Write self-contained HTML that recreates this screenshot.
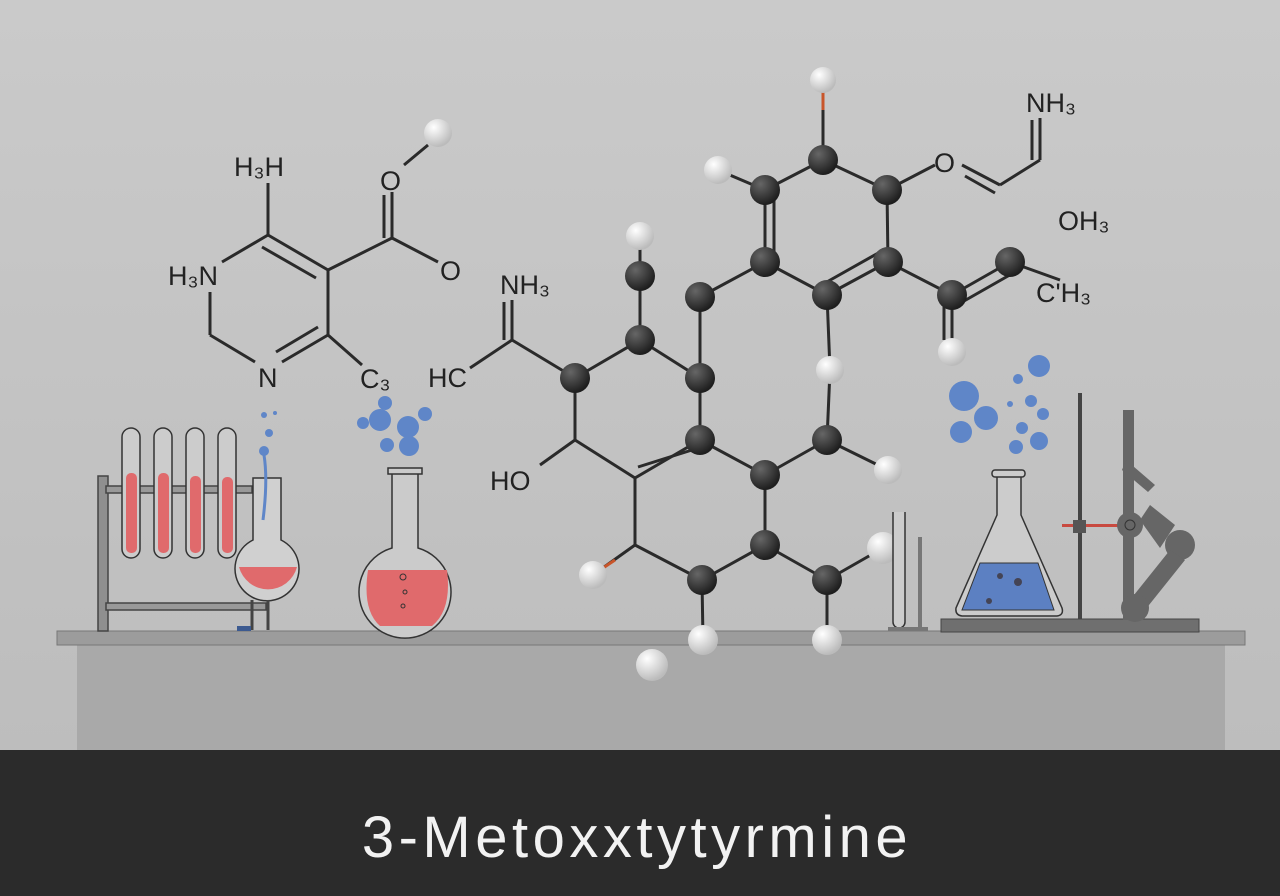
<!DOCTYPE html>
<html><head><style>
html,body{margin:0;padding:0;width:1280px;height:896px;overflow:hidden;background:#c6c6c6}
svg{display:block}
text{font-family:"Liberation Sans",sans-serif;fill:#222}
</style></head><body>
<svg width="1280" height="896" viewBox="0 0 1280 896">
<defs>
<linearGradient id="bg" x1="0" y1="0" x2="0" y2="1"><stop offset="0" stop-color="#cacaca"/><stop offset="1" stop-color="#bdbdbd"/></linearGradient>
<radialGradient id="dk" cx="0.35" cy="0.3" r="0.7"><stop offset="0" stop-color="#666"/><stop offset="1" stop-color="#1e1e1e"/></radialGradient>
<radialGradient id="wt" cx="0.35" cy="0.3" r="0.7"><stop offset="0" stop-color="#fff"/><stop offset="1" stop-color="#bbb"/></radialGradient>
</defs>
<rect width="1280" height="750" fill="url(#bg)"/>
<rect x="77" y="645" width="1148" height="105" fill="#a9a9a9"/>
<rect x="57" y="631" width="1188" height="14" fill="#9c9c9c" stroke="#777" stroke-width="1"/>
<rect x="0" y="750" width="1280" height="146" fill="#2b2b2b"/>
<text x="637" y="857" text-anchor="middle" font-size="58" letter-spacing="4.5" style="fill:#f2f2f2">3-Metoxxtytyrmine</text>

<g stroke="#2a2a2a" stroke-width="3" fill="none">
<line x1="268" y1="183" x2="268" y2="235"/>
<line x1="268" y1="235" x2="328" y2="270"/><line x1="262" y1="247" x2="316" y2="278"/>
<line x1="268" y1="235" x2="222" y2="262"/>
<line x1="328" y1="270" x2="328" y2="335"/>
<line x1="328" y1="335" x2="282" y2="362"/><line x1="318" y1="327" x2="276" y2="352"/>
<line x1="255" y1="362" x2="210" y2="335"/>
<line x1="210" y1="335" x2="210" y2="292"/>
<line x1="328" y1="270" x2="392" y2="238"/>
<line x1="392" y1="238" x2="392" y2="192"/><line x1="384" y1="238" x2="384" y2="195"/>
<line x1="392" y1="238" x2="438" y2="262"/>
<line x1="404" y1="165" x2="428" y2="145"/>
<line x1="328" y1="335" x2="362" y2="365"/>
</g>
<text x="234" y="176" font-size="27">H₃H</text>
<text x="168" y="285" font-size="27">H₃N</text>
<text x="258" y="387" font-size="27">N</text>
<text x="380" y="190" font-size="27">O</text>
<text x="440" y="280" font-size="27">O</text>
<text x="360" y="388" font-size="27">C₃</text>
<circle cx="438" cy="133" r="14" fill="url(#wt)"/>

<g stroke="#2a2a2a" stroke-width="3" fill="none">
<line x1="823" y1="160" x2="887" y2="190"/><line x1="823" y1="160" x2="765" y2="190"/>
<line x1="765" y1="190" x2="718" y2="170"/>
<line x1="765" y1="190" x2="765" y2="262"/><line x1="774" y1="198" x2="774" y2="255"/>
<line x1="887" y1="190" x2="888" y2="262"/>
<line x1="887" y1="190" x2="935" y2="165"/>
<line x1="962" y1="165" x2="1000" y2="185"/><line x1="965" y1="176" x2="995" y2="193"/>
<line x1="1000" y1="185" x2="1040" y2="160"/>
<line x1="1040" y1="160" x2="1040" y2="118"/><line x1="1032" y1="160" x2="1032" y2="120"/>
<line x1="765" y1="262" x2="827" y2="295"/>
<line x1="888" y1="262" x2="827" y2="295"/><line x1="880" y1="252" x2="825" y2="283"/>
<line x1="888" y1="262" x2="952" y2="295"/>
<line x1="952" y1="295" x2="1010" y2="262"/><line x1="957" y1="305" x2="1015" y2="272"/>
<line x1="1010" y1="262" x2="1060" y2="280"/>
<line x1="952" y1="295" x2="952" y2="352"/><line x1="944" y1="300" x2="944" y2="340"/>
<line x1="827" y1="295" x2="830" y2="370"/>
<line x1="765" y1="262" x2="700" y2="297"/>
<line x1="700" y1="297" x2="700" y2="440"/>
<line x1="640" y1="236" x2="640" y2="340"/>
<line x1="640" y1="340" x2="575" y2="378"/><line x1="640" y1="340" x2="700" y2="378"/>
<line x1="575" y1="378" x2="512" y2="340"/>
<line x1="512" y1="340" x2="512" y2="300"/><line x1="504" y1="340" x2="504" y2="302"/>
<line x1="512" y1="340" x2="470" y2="368"/>
<line x1="575" y1="378" x2="575" y2="440"/>
<line x1="575" y1="440" x2="540" y2="465"/>
<line x1="575" y1="440" x2="635" y2="478"/>
<line x1="700" y1="440" x2="635" y2="478"/><line x1="692" y1="450" x2="638" y2="467"/>
<line x1="700" y1="440" x2="765" y2="475"/>
<line x1="830" y1="370" x2="827" y2="440"/>
<line x1="827" y1="440" x2="765" y2="475"/><line x1="827" y1="440" x2="888" y2="470"/>
<line x1="765" y1="475" x2="765" y2="545"/>
<line x1="635" y1="478" x2="635" y2="545"/>
<line x1="635" y1="545" x2="702" y2="580"/>
<line x1="702" y1="580" x2="765" y2="545"/><line x1="765" y1="545" x2="827" y2="580"/>
<line x1="827" y1="580" x2="883" y2="548"/>
<line x1="702" y1="580" x2="703" y2="640"/><line x1="827" y1="580" x2="827" y2="640"/>
</g>
<line x1="823" y1="80" x2="823" y2="160" stroke="#2a2a2a" stroke-width="3"/>
<line x1="823" y1="92" x2="823" y2="110" stroke="#c8552a" stroke-width="3"/>
<line x1="635" y1="545" x2="593" y2="575" stroke="#2a2a2a" stroke-width="3"/>
<line x1="615" y1="560" x2="600" y2="570" stroke="#c8552a" stroke-width="3"/>
<text x="934" y="172" font-size="27">O</text>
<text x="1026" y="112" font-size="27">NH₃</text>
<text x="1058" y="230" font-size="27">OH₃</text>
<text x="1036" y="302" font-size="27">C'H₃</text>
<text x="500" y="294" font-size="27">NH₃</text>
<text x="428" y="387" font-size="27">HC</text>
<text x="490" y="490" font-size="27">HO</text>

<g fill="url(#dk)">
<circle cx="823" cy="160" r="15"/><circle cx="887" cy="190" r="15"/><circle cx="765" cy="190" r="15"/>
<circle cx="765" cy="262" r="15"/><circle cx="888" cy="262" r="15"/><circle cx="827" cy="295" r="15"/>
<circle cx="952" cy="295" r="15"/><circle cx="1010" cy="262" r="15"/><circle cx="700" cy="297" r="15"/>
<circle cx="640" cy="276" r="15"/><circle cx="640" cy="340" r="15"/><circle cx="575" cy="378" r="15"/>
<circle cx="700" cy="378" r="15"/><circle cx="700" cy="440" r="15"/><circle cx="827" cy="440" r="15"/>
<circle cx="765" cy="475" r="15"/><circle cx="765" cy="545" r="15"/><circle cx="702" cy="580" r="15"/>
<circle cx="827" cy="580" r="15"/>
</g>
<g fill="url(#wt)">
<circle cx="823" cy="80" r="13"/><circle cx="718" cy="170" r="14"/><circle cx="640" cy="236" r="14"/>
<circle cx="830" cy="370" r="14"/><circle cx="888" cy="470" r="14"/><circle cx="952" cy="352" r="14"/>
<circle cx="593" cy="575" r="14"/><circle cx="883" cy="548" r="16"/><circle cx="703" cy="640" r="15"/>
<circle cx="827" cy="640" r="15"/><circle cx="652" cy="665" r="16"/>
</g>

<g stroke="#444" stroke-width="1.5">
<rect x="98" y="476" width="10" height="155" fill="#8f8f8f"/>
<rect x="106" y="486" width="146" height="7" fill="#999"/>
<rect x="106" y="603" width="160" height="7" fill="#999"/>
</g>
<g stroke="#333" stroke-width="1.5" fill="#ccc">
<rect x="122" y="428" width="18" height="130" rx="9"/>
<rect x="154" y="428" width="18" height="130" rx="9"/>
<rect x="186" y="428" width="18" height="130" rx="9"/>
<rect x="218" y="428" width="18" height="130" rx="9"/>
</g>
<g fill="#e06a6c">
<rect x="126" y="473" width="11" height="80" rx="5"/><rect x="158" y="473" width="11" height="80" rx="5"/>
<rect x="190" y="476" width="11" height="77" rx="5"/><rect x="222" y="477" width="11" height="76" rx="5"/>
</g>
<path d="M253 478 L253 540 A32 32 0 1 0 281 540 L281 478 Z" fill="#d0d0d0" stroke="#333" stroke-width="1.5"/>
<path d="M239 567 L297 567 A30 30 0 0 1 239 567 Z" fill="#e06a6c"/>
<path d="M264 455 Q268 480 263 520" stroke="#5f86c8" stroke-width="3" fill="none"/>
<circle cx="264" cy="451" r="5" fill="#5f86c8"/><circle cx="269" cy="433" r="4" fill="#5f86c8"/><circle cx="264" cy="415" r="3" fill="#5f86c8"/><circle cx="275" cy="413" r="2" fill="#5f86c8"/>
<line x1="252" y1="600" x2="252" y2="630" stroke="#444" stroke-width="3"/><line x1="268" y1="600" x2="268" y2="630" stroke="#444" stroke-width="3"/>
<rect x="237" y="626" width="14" height="5" fill="#3c5a90"/>
<path d="M392 470 L392 548 A46 46 0 1 0 418 548 L418 470 Z" fill="#cbcbcb" stroke="#333" stroke-width="1.5"/>
<rect x="388" y="468" width="34" height="6" fill="#cbcbcb" stroke="#333" stroke-width="1.5"/>
<path d="M368 570 L447 570 Q452 610 432 626 L380 626 Q362 610 368 570 Z" fill="#e06a6c"/>
<circle cx="403" cy="577" r="3" fill="none" stroke="#333"/><circle cx="405" cy="592" r="2" fill="none" stroke="#333"/><circle cx="403" cy="606" r="2" fill="none" stroke="#333"/>
<g fill="#5f86c8"><circle cx="380" cy="420" r="11"/><circle cx="408" cy="427" r="11"/><circle cx="363" cy="423" r="6"/><circle cx="387" cy="445" r="7"/><circle cx="409" cy="446" r="10"/><circle cx="425" cy="414" r="7"/><circle cx="385" cy="403" r="7"/></g>

<g fill="#5f86c8"><circle cx="964" cy="396" r="15"/><circle cx="986" cy="418" r="12"/><circle cx="961" cy="432" r="11"/><circle cx="1039" cy="366" r="11"/><circle cx="1018" cy="379" r="5"/><circle cx="1031" cy="401" r="6"/><circle cx="1043" cy="414" r="6"/><circle cx="1022" cy="428" r="6"/><circle cx="1039" cy="441" r="9"/><circle cx="1016" cy="447" r="7"/><circle cx="1010" cy="404" r="3"/></g>
<rect x="941" y="619" width="258" height="13" fill="#6f6f6f" stroke="#444"/>
<path d="M997 476 L997 515 L956 608 Q955 615 962 616 L1057 616 Q1064 615 1062 608 L1021 515 L1021 476 Z" fill="#ccc" stroke="#333" stroke-width="1.5"/>
<rect x="992" y="470" width="33" height="7" rx="3" fill="#ccc" stroke="#333" stroke-width="1.5"/>
<path d="M980 563 L1038 563 L1054 610 L962 610 Z" fill="#5c80c2" stroke="#333"/>
<circle cx="1000" cy="576" r="3" fill="#445"/><circle cx="1018" cy="582" r="4" fill="#445"/><circle cx="989" cy="601" r="3" fill="#445"/>
<rect x="1078" y="393" width="4" height="226" fill="#444"/>
<rect x="1062" y="524" width="60" height="3" fill="#c84a40"/>
<rect x="1073" y="520" width="13" height="13" fill="#555"/>
<rect x="1123" y="410" width="11" height="210" fill="#666"/>
<polygon points="1126,460 1155,485 1148,492 1122,470" fill="#666"/>
<polygon points="1150,505 1175,525 1160,548 1140,520" fill="#666"/>
<circle cx="1130" cy="525" r="13" fill="#666"/><circle cx="1130" cy="525" r="5" fill="none" stroke="#333"/>
<circle cx="1180" cy="545" r="15" fill="#666"/>
<polygon points="1170,550 1185,560 1145,610 1130,600" fill="#666"/>
<circle cx="1135" cy="608" r="14" fill="#666"/>
<path d="M893 512 L893 622 A6 6 0 0 0 905 622 L905 512" fill="#ccc" stroke="#333" stroke-width="1.5"/>
<rect x="918" y="537" width="4" height="92" fill="#777"/>
<rect x="888" y="627" width="40" height="4" fill="#777"/>
</svg>
</body></html>
